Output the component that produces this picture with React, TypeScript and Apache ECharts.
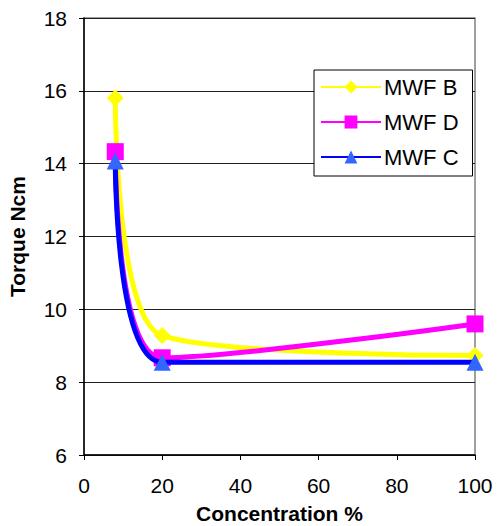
import React, { useEffect, useRef } from "react";
import * as echarts from "echarts";

const concentrations = [8, 20, 100];
const mwfB = [15.8, 9.28, 8.73];
const mwfD = [14.33, 8.67, 9.6];
const mwfC = [14.07, 8.55, 8.55];
const seriesNames = ["MWF B", "MWF D", "MWF C"];

export default function App() {
  const ref = useRef<HTMLDivElement>(null);
  useEffect(() => {
    if (!ref.current) return;
    const chart = echarts.init(ref.current, undefined, { renderer: "svg" });
    const font = "Arial, 'Liberation Sans', sans-serif";
    const mk = (vals: number[]) => vals.map((v, i) => [concentrations[i], v]);
    chart.setOption({
      animation: false,
      backgroundColor: "#ffffff",
      textStyle: { fontFamily: font },
      grid: {
        left: 84,
        right: 22,
        top: 18,
        bottom: 71,
        containLabel: false,
        outerBoundsMode: "none",
        show: true,
        borderColor: "#808080",
        borderWidth: 1.5,
      },
      legend: {
        orient: "vertical",
        left: 314,
        top: 70,
        itemWidth: 60,
        itemHeight: 16,
        itemGap: 13,
        padding: [6, 14, 8, 6],
        backgroundColor: "#ffffff",
        borderColor: "#000000",
        borderWidth: 1,
        borderRadius: 0,
        textStyle: { fontFamily: font, fontSize: 22, color: "#000", padding: [0, 0, 0, -2] },
        data: seriesNames,
      },
      xAxis: {
        type: "value",
        min: 0,
        max: 100,
        interval: 20,
        name: "Concentration %",
        nameLocation: "middle",
        nameGap: 48,
        nameTextStyle: { fontFamily: font, fontSize: 21, fontWeight: "bold", color: "#000" },
        axisLine: { show: true, lineStyle: { color: "#000", width: 1.5 } },
        axisTick: { show: true, length: 5, lineStyle: { color: "#000" } },
        axisLabel: { fontFamily: font, fontSize: 21, color: "#000", margin: 20 },
        splitLine: { show: false },
      },
      yAxis: {
        type: "value",
        min: 6,
        max: 18,
        interval: 2,
        name: "Torque Ncm",
        nameLocation: "middle",
        nameGap: 56,
        nameTextStyle: { fontFamily: font, fontSize: 21, fontWeight: "bold", color: "#000" },
        axisLine: { show: true, lineStyle: { color: "#000", width: 1.5 } },
        axisTick: { show: true, length: 5, lineStyle: { color: "#000" } },
        axisLabel: { fontFamily: font, fontSize: 21, color: "#000", margin: 17 },
        splitLine: { show: true, lineStyle: { color: "#222", width: 1 } },
      },
      series: [
        {
          name: "MWF B",
          type: "line",
          data: mk(mwfB),
          smooth: 0.6,
          symbol: "diamond",
          symbolSize: 17,
          lineStyle: { color: "#FFFF00", width: 5 },
          itemStyle: { color: "#FFFF00" },
          z: 2,
        },
        {
          name: "MWF D",
          type: "line",
          data: mk(mwfD),
          smooth: 0.6,
          symbol: "rect",
          symbolSize: 17,
          lineStyle: { color: "#FF00FF", width: 5 },
          itemStyle: { color: "#FF00FF" },
          z: 3,
        },
        {
          name: "MWF C",
          type: "line",
          data: mk(mwfC),
          smooth: 0.6,
          symbol: "triangle",
          symbolSize: 17,
          lineStyle: { color: "#0000FF", width: 5 },
          itemStyle: { color: "#3366FF" },
          z: 4,
        },
      ],
    });
    return () => chart.dispose();
  }, []);
  return (
    <div
      ref={ref}
      style={{ position: "fixed", left: 0, top: 0, width: 497, height: 526 }}
    />
  );
}
